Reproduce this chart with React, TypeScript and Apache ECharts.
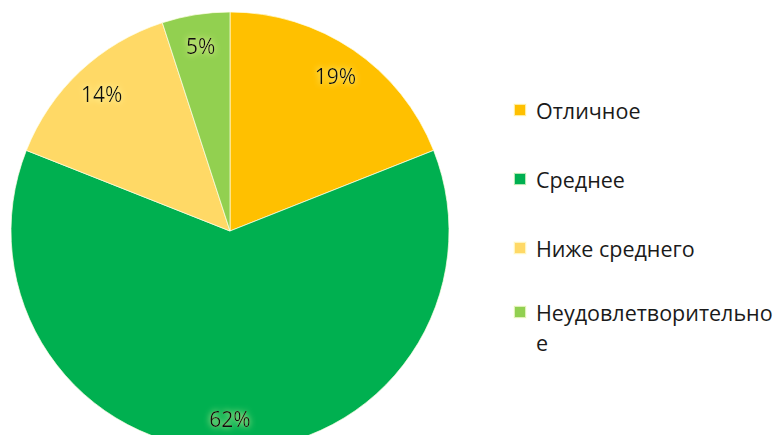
import React, { useEffect, useRef } from "react";
import * as echarts from "echarts";

const categories = ["Отличное", "Среднее", "Ниже среднего", "Неудовлетворительное"];
const values = [19, 62, 14, 5];
const colors = ["#FFC000", "#00B050", "#FFD966", "#92D050"];

export default function App() {
  const ref = useRef<HTMLDivElement>(null);
  useEffect(() => {
    if (!ref.current) return;
    const chart = echarts.init(ref.current, null, { renderer: "svg" });
    const data = categories.map((name, i) => ({
      name,
      value: values[i],
      itemStyle: { color: colors[i] },
    }));
    const legendText = {
      fontFamily: "Open Sans",
      fontSize: 21.5,
      lineHeight: 30,
      color: "#1a1a1a",
      padding: [0, 0, 0, 5],
    };
    chart.setOption({
      animation: false,
      legend: [
        {
          orient: "vertical",
          left: 508,
          top: 90,
          itemWidth: 12,
          itemHeight: 12,
          itemGap: 39,
          icon: "rect",
          data: categories.slice(0, 3),
          selectedMode: false,
          textStyle: legendText,
        },
        {
          orient: "vertical",
          left: 508,
          top: 262,
          itemWidth: 12,
          itemHeight: 12,
          icon: "rect",
          data: categories.slice(3),
          selectedMode: false,
          formatter: () => " \nНеудовлетворительно\nе",
          textStyle: legendText,
        },
      ],
      series: [
        {
          type: "pie",
          center: [230, 231],
          radius: [0, 219],
          startAngle: 90,
          clockwise: true,
          silent: true,
          data,
          label: { show: false },
          labelLine: { show: false },
          itemStyle: { borderColor: "rgba(255,255,230,0.7)", borderWidth: 1 },
        },
        {
          type: "pie",
          center: [230, 231],
          radius: [150, 219],
          startAngle: 90,
          clockwise: true,
          silent: true,
          data: categories.map((name, i) => ({
            name,
            value: values[i],
            itemStyle: { color: "rgba(0,0,0,0)" },
          })),
          label: {
            show: true,
            position: "inside",
            formatter: (p: any) => `${p.value}%`,
            fontFamily: "Open Sans",
            fontSize: 21,
            color: "#111",
            textShadowColor: "rgba(255,255,170,1)",
            textShadowBlur: 6,
          },
          labelLine: { show: false },
        },
      ],
    });
    return () => chart.dispose();
  }, []);
  return (
    <div
      ref={ref}
      style={{ position: "fixed", left: 0, top: 0, width: 781, height: 435, background: "#fff" }}
    />
  );
}
